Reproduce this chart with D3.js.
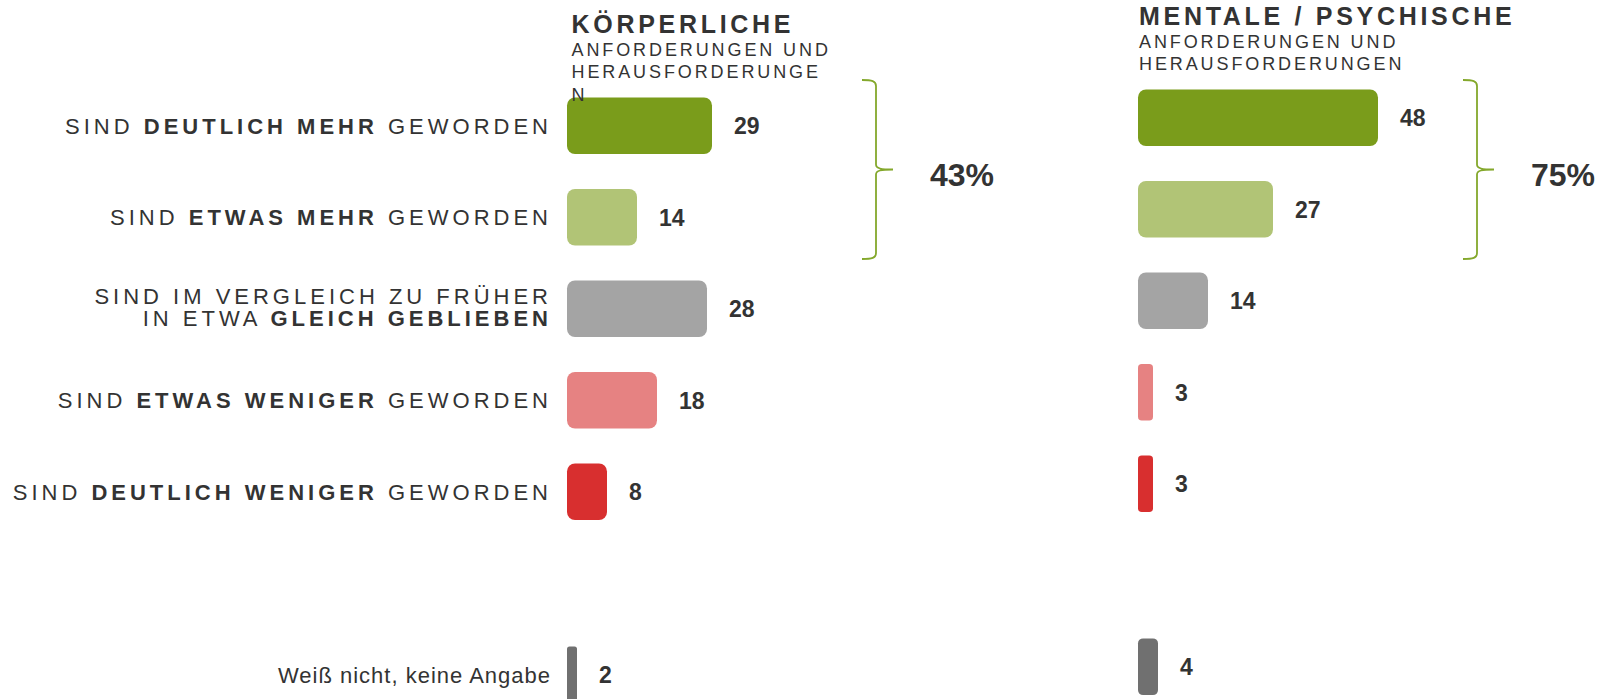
<!DOCTYPE html>
<html>
<head>
<meta charset="utf-8">
<script src="https://cdn.jsdelivr.net/npm/d3@7"></script>
<style>
  body { margin: 0; background: #ffffff; }
  svg { display: block; font-family: "Liberation Sans", Arial, sans-serif; }
</style>
</head>
<body>
<div id="chart"></div>
<script>
// row keys (one empty slot before "weiß nicht")
const rowKeys = ["dMehr", "eMehr", "gleich", "eWeniger", "dWeniger", "", "wn"];
const barKeys = ["dMehr", "eMehr", "gleich", "eWeniger", "dWeniger", "wn"];

// category labels: each line is a list of [text, bold]
const categoryLabels = [
  [[["SIND ", false], ["DEUTLICH MEHR", true], [" GEWORDEN", false]]],
  [[["SIND ", false], ["ETWAS MEHR", true], [" GEWORDEN", false]]],
  [[["SIND IM VERGLEICH ZU FRÜHER", false]], [["IN ETWA ", false], ["GLEICH GEBLIEBEN", true]]],
  [[["SIND ", false], ["ETWAS WENIGER", true], [" GEWORDEN", false]]],
  [[["SIND ", false], ["DEUTLICH WENIGER", true], [" GEWORDEN", false]]],
  [[["Weiß nicht, keine Angabe", false]]]
];

const koerperlichValues = [29, 14, 28, 18, 8, 2];
const mentalValues = [48, 27, 14, 3, 3, 4];

const barColors = ["#7a9c1b", "#b1c476", "#a4a4a4", "#e68282", "#d82f2f", "#707070"];

const panelTitles = ["KÖRPERLICHE", "MENTALE / PSYCHISCHE"];
const panelSubtitles = [
  ["ANFORDERUNGEN UND", "HERAUSFORDERUNGE", "N"],
  ["ANFORDERUNGEN UND", "HERAUSFORDERUNGEN"]
];

const width = 1600, height = 699;
const textColor = "#333333";
const braceColor = "#84a82c";

const panels = [
  { values: koerperlichValues, x0: 567, top: 80, textDx: 4.5, brace: 59 },
  { values: mentalValues, x0: 1138, top: 72, textDx: 1, brace: 65 }
];
const rowStep = 91.5;

const svg = d3.select("#chart").append("svg")
  .attr("width", width)
  .attr("height", height)
  .style("background-color", "#ffffff");

const braceTop = panels[0].top;
const braceBottom = braceTop + 179;
const braceMid = (braceTop + braceBottom) / 2;

panels.forEach((p, pi) => {
  const xScale = d3.scaleLinear()
    .domain([0, 100])
    .range([p.x0, p.x0 + 500]);

  const yScale = d3.scaleBand()
    .domain(rowKeys)
    .range([p.top, p.top + rowStep * rowKeys.length])
    .paddingInner(0.38)
    .paddingOuter(0.19);

  const rows = barKeys.map((k, i) => ({ key: k, value: p.values[i], color: barColors[i] }));
  const g = svg.append("g");

  // bars
  g.selectAll(".bar")
    .data(rows)
    .enter()
    .append("rect")
    .attr("class", "bar")
    .attr("x", xScale(0))
    .attr("y", d => yScale(d.key))
    .attr("width", d => xScale(d.value) - xScale(0))
    .attr("height", yScale.bandwidth())
    .attr("rx", d => Math.min(8, (xScale(d.value) - xScale(0)) / 4))
    .attr("fill", d => d.color);

  // value labels
  g.selectAll(".value-label")
    .data(rows)
    .enter()
    .append("text")
    .attr("class", "value-label")
    .attr("x", d => xScale(d.value) + 22)
    .attr("y", d => yScale(d.key) + yScale.bandwidth() / 2 + 8.3)
    .attr("font-size", "23px")
    .attr("font-weight", "bold")
    .attr("fill", textColor)
    .text(d => d.value);

  // title + subtitle
  const tx = xScale(0) + p.textDx;
  g.append("text")
    .attr("x", tx)
    .attr("y", p.top - 47)
    .attr("font-size", "25px")
    .attr("font-weight", "bold")
    .attr("letter-spacing", "3.7px")
    .attr("fill", textColor)
    .text(panelTitles[pi]);

  panelSubtitles[pi].forEach((line, li) => {
    g.append("text")
      .attr("x", tx)
      .attr("y", p.top - 24 + li * 22.3)
      .attr("font-size", "18px")
      .attr("letter-spacing", "2.9px")
      .attr("fill", textColor)
      .text(line);
  });

  // brace over the two "mehr" rows
  const bx = xScale(p.brace);
  const path = d3.path();
  path.moveTo(bx, braceTop);
  path.bezierCurveTo(bx + 10, braceTop, bx + 14, braceTop + 1, bx + 14, braceTop + 6);
  path.lineTo(bx + 14, braceMid - 5);
  path.bezierCurveTo(bx + 14, braceMid - 1, bx + 19, braceMid, bx + 31, braceMid);
  path.bezierCurveTo(bx + 19, braceMid, bx + 14, braceMid + 1, bx + 14, braceMid + 5);
  path.lineTo(bx + 14, braceBottom - 6);
  path.bezierCurveTo(bx + 14, braceBottom - 1, bx + 10, braceBottom, bx, braceBottom);
  g.append("path")
    .attr("d", path.toString())
    .attr("fill", "none")
    .attr("stroke", braceColor)
    .attr("stroke-width", 1.8);

  g.append("text")
    .attr("x", bx + 68)
    .attr("y", braceMid + 16)
    .attr("font-size", "32px")
    .attr("font-weight", "bold")
    .attr("fill", textColor)
    .text((p.values[0] + p.values[1]) + "%");

  // category labels only on the left panel
  if (pi === 0) {
    const labelX = xScale(0) - 15;
    const lineH = 22;
    rows.forEach((d, i) => {
      const lines = categoryLabels[i];
      const cy = yScale(d.key) + yScale.bandwidth() / 2;
      const isLast = d.key === "wn";
      const shift = lines.length > 1 ? -2 : 0;
      lines.forEach((segs, li) => {
        const by = cy + 7.8 + shift - (lines.length - 1) * lineH / 2 + li * lineH;
        const t = g.append("text")
          .attr("x", isLast ? xScale(0) - 16 : labelX)
          .attr("y", by)
          .attr("text-anchor", "end")
          .attr("font-size", "22px")
          .attr("letter-spacing", isLast ? "1px" : "4px")
          .attr("fill", textColor)
          .attr("xml:space", "preserve");
        segs.forEach(([txt, bold]) => {
          t.append("tspan")
            .attr("font-weight", bold ? "bold" : "normal")
            .text(txt);
        });
      });
    });
  }
});
</script>
</body>
</html>
